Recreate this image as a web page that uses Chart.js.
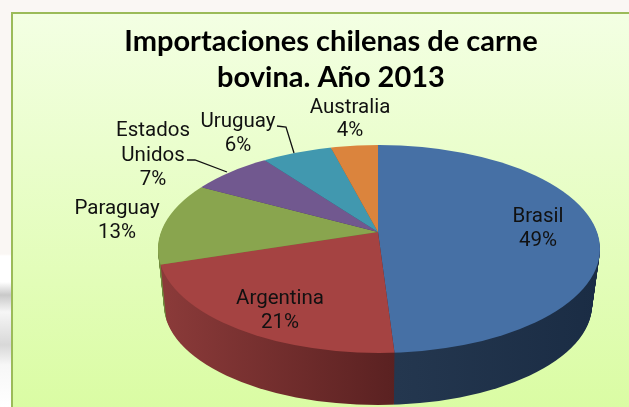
<!DOCTYPE html>
<html>
<head>
<meta charset="utf-8">
<script src="https://cdn.jsdelivr.net/npm/chart.js@4/dist/chart.umd.min.js"></script>
<style>
    html, body { margin: 0; padding: 0; overflow: hidden; }
    #page {
        position: relative; width: 629px; height: 407px;
        background: linear-gradient(to bottom, #faf7f4 0, #faf7f4 254px, #fff 256px, #fff 282px, #c9c9c9 295px, #f6f6f6 312px, #d8d8d8 345px, #f7f7f7 365px, #fff 407px);
    }
    #panel {
        position: absolute; left: 11px; top: 12px; width: 620px; height: 400px;
        border: 2px solid #9bbb59; box-sizing: border-box;
        background: linear-gradient(to bottom, #f3ffe3, #dafca3);
    }
    canvas { position: absolute; left: 0; top: 0; }
</style>
</head>
<body>
<div id="page">
    <div id="panel"></div>
    <canvas id="chart" width="629" height="407"></canvas>
</div>
<script>
const categories = ['Brasil', 'Argentina', 'Paraguay', 'Estados Unidos', 'Uruguay', 'Australia']
const shares = [49, 21, 13, 7, 6, 4]
const sliceColors = ['#4670a5', '#a54342', '#89a54e', '#71588f', '#4198af', '#db843d']
const wallFrom = ['#24374f', '#8c3b3a', '#6f8a3c', '#4f3d66', '#2c6f80', '#a9632b']
const wallTo = ['#1a2c44', '#5a2121', '#55702e', '#3c2e4f', '#225866', '#8a5022']
const titleLines = ['Importaciones chilenas de carne', 'bovina. Año 2013']

// the pie is a circle squashed around its apex, then cut by the perspective ellipse
const apex = {x: 378, y: 232}
const squash = 0.46
const bigRadius = 320
const topFace = {x: 379, y: 249, rx: 221, ry: 104}
const depth = 56

// label placement, centre of each line
const labelSpots = [
    {x: 538, y: [217, 241]},
    {x: 280, y: [299, 323]},
    {x: 117, y: [209, 233]},
    {x: 153, y: [131, 156, 180]},
    {x: 238, y: [122, 146]},
    {x: 350, y: [108, 131]}
]
const leaders = [
    [[187, 160], [195, 160], [227, 172]],
    [[277, 126], [286, 127], [294, 153]]
]

function labelLines(i) {
    const lines = categories[i] === 'Estados Unidos' ? ['Estados', 'Unidos'] : [categories[i]]
    return lines.concat(shares[i] + '%')
}

function pieTransform(ctx, arc, dy) {
    const s = bigRadius / arc.outerRadius
    ctx.translate(apex.x, apex.y + dy)
    ctx.scale(s, s * squash)
    ctx.translate(-arc.x, -arc.y)
}

function clipEllipse(ctx, dy) {
    const t = dy / depth
    ctx.beginPath()
    ctx.ellipse(topFace.x - t, topFace.y + dy, topFace.rx - 7 * t, topFace.ry - 4 * t, 0, 0, Math.PI * 2)
    ctx.clip()
}

const pie3d = {
    id: 'pie3d',
    beforeDatasetDraw(chart) {
        const ctx = chart.ctx
        const arcs = chart.getDatasetMeta(0).data
        const s = bigRadius / arcs[0].outerRadius
        const toChartX = (x) => arcs[0].x + (x - apex.x) / s
        const walls = arcs.map((arc, i) => {
            const g = ctx.createLinearGradient(toChartX(i === 0 ? 396 : 158), 0, toChartX(i === 0 ? 600 : 396), 0)
            g.addColorStop(0, wallFrom[i])
            g.addColorStop(1, wallTo[i])
            return g
        })
        for (let dy = depth; dy > 0; dy--) {
            ctx.save()
            clipEllipse(ctx, dy)
            pieTransform(ctx, arcs[0], dy)
            arcs.forEach((arc, i) => {
                const saved = arc.options
                arc.options = Object.create(saved)
                arc.options.backgroundColor = walls[i]
                arc.draw(ctx)
                arc.options = saved
            })
            ctx.restore()
        }
        ctx.save()
        clipEllipse(ctx, 0)
        pieTransform(ctx, arcs[0], 0)
    },
    afterDatasetDraw(chart) {
        const ctx = chart.ctx
        ctx.restore()
        ctx.save()
        ctx.fillStyle = '#111'
        ctx.font = '20.5px Roboto'
        ctx.textAlign = 'center'
        ctx.textBaseline = 'middle'
        categories.forEach((name, i) => {
            labelLines(i).forEach((line, j) => {
                ctx.fillText(line, labelSpots[i].x, labelSpots[i].y[j])
            })
        })
        ctx.strokeStyle = '#111'
        ctx.lineWidth = 1.3
        leaders.forEach((pts) => {
            ctx.beginPath()
            pts.forEach((p, j) => j ? ctx.lineTo(p[0], p[1]) : ctx.moveTo(p[0], p[1]))
            ctx.stroke()
        })
        ctx.restore()
    }
}

new Chart(document.getElementById('chart'), {
    type: 'pie',
    data: {
        labels: categories,
        datasets: [{
            data: shares,
            backgroundColor: sliceColors,
            borderWidth: 0,
            clip: false
        }]
    },
    options: {
        responsive: false,
        animation: false,
        layout: {padding: {left: 33, top: 23}},
        plugins: {
            legend: {display: false},
            tooltip: {enabled: false},
            title: {
                display: true,
                text: titleLines,
                color: '#000',
                font: {family: 'Lato', weight: 'bold', size: 29, lineHeight: 1.26},
                padding: {top: 0, bottom: 10}
            }
        }
    },
    plugins: [pie3d]
})
</script>
</body>
</html>
